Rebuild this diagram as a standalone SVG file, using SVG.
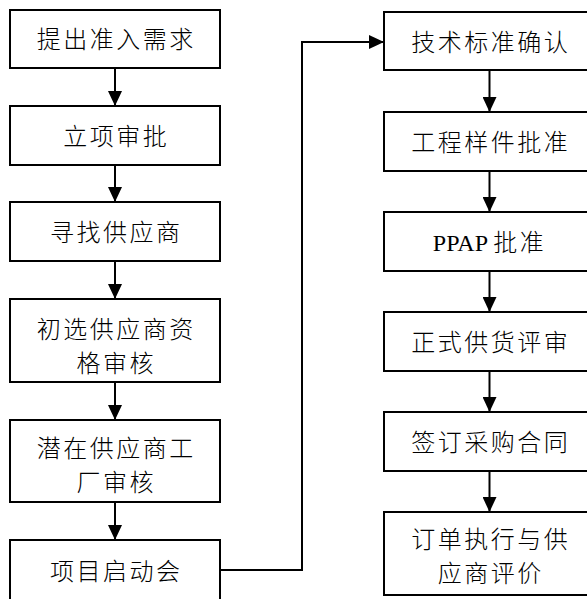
<svg xmlns="http://www.w3.org/2000/svg" width="587" height="599" viewBox="0 0 587 599">
<defs>
<style>
.box{fill:#fff;stroke:#000;stroke-width:2}
.t{font-family:"Liberation Serif","Noto Sans CJK SC",serif;font-size:24px;font-weight:300;letter-spacing:2.5px;fill:#000;text-anchor:middle}
.lat{letter-spacing:0;font-weight:400}
.c{fill:none;stroke:#000;stroke-width:2}
</style>
<marker id="ah" markerUnits="userSpaceOnUse" markerWidth="15" markerHeight="14" refX="15" refY="7" orient="auto">
<path d="M0,0 L15,7 L0,14 Z" fill="#000"/>
</marker>
</defs>
<rect width="587" height="599" fill="#fff"/>
<g id="connectors">
<path class="c" d="M115,68 V106" marker-end="url(#ah)"/>
<path class="c" d="M115,165 V202" marker-end="url(#ah)"/>
<path class="c" d="M115,261 V299" marker-end="url(#ah)"/>
<path class="c" d="M115,382 V420" marker-end="url(#ah)"/>
<path class="c" d="M115,502 V540" marker-end="url(#ah)"/>
<path class="c" d="M220,570 H302 V42 H384" marker-end="url(#ah)"/>
<path class="c" d="M489.5,70 V112" marker-end="url(#ah)"/>
<path class="c" d="M489.5,171 V212" marker-end="url(#ah)"/>
<path class="c" d="M489.5,271 V312" marker-end="url(#ah)"/>
<path class="c" d="M489.5,371 V412" marker-end="url(#ah)"/>
<path class="c" d="M489.5,471 V512" marker-end="url(#ah)"/>
</g>
<g id="n1"><rect class="box" x="10" y="10" width="210" height="58"/><text class="t" x="116.25" y="48">提出准入需求</text></g>
<g id="n2"><rect class="box" x="10" y="106" width="210" height="59"/><text class="t" x="116.25" y="144.5">立项审批</text></g>
<g id="n3"><rect class="box" x="10" y="202" width="210" height="59"/><text class="t" x="116.25" y="240.5">寻找供应商</text></g>
<g id="n4"><rect class="box" x="10" y="299" width="210" height="83"/><text class="t" x="116.25" y="337.5">初选供应商资</text><text class="t" x="116.25" y="371.5">格审核</text></g>
<g id="n5"><rect class="box" x="10" y="420" width="210" height="82"/><text class="t" x="116.25" y="457">潜在供应商工</text><text class="t" x="116.25" y="491">厂审核</text></g>
<g id="n6"><rect class="box" x="10" y="540" width="210" height="60"/><text class="t" x="116.25" y="580">项目启动会</text></g>
<g id="n7"><rect class="box" x="384" y="12" width="211" height="58"/><text class="t" x="490.75" y="50.7">技术标准确认</text></g>
<g id="n8"><rect class="box" x="384" y="112" width="211" height="59"/><text class="t" x="490.75" y="150.7">工程样件批准</text></g>
<g id="n9"><rect class="box" x="384" y="212" width="211" height="59"/><text class="t" x="489.5" y="250.7"><tspan class="lat">PPAP </tspan>批准</text></g>
<g id="n10"><rect class="box" x="384" y="312" width="211" height="59"/><text class="t" x="490.75" y="350.7">正式供货评审</text></g>
<g id="n11"><rect class="box" x="384" y="412" width="211" height="59"/><text class="t" x="490.75" y="450.7">签订采购合同</text></g>
<g id="n12"><rect class="box" x="384" y="512" width="211" height="83"/><text class="t" x="490.75" y="548">订单执行与供</text><text class="t" x="490.75" y="582">应商评价</text></g>
</svg>
